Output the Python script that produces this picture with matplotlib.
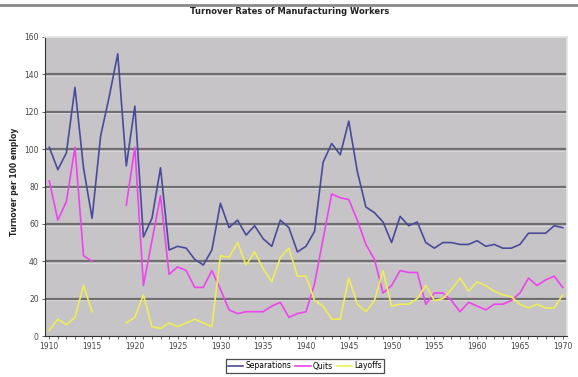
import numpy as np
import matplotlib
matplotlib.use("Agg")
from matplotlib import pyplot as plt
from matplotlib.lines import Line2D

years = list(range(1910, 1971))

separations = [101, 89, 98, 133, 90, 63, 107, 128, 151, 91,
               123, 53, 63, 90, 46, 48, 47, 41, 38, 46,
               71, 58, 62, 54, 59, 52, 48, 62, 58, 45,
               48, 56, 93, 103, 97, 115, 88, 69, 66, 61,
               50, 64, 59, 61, 50, 47, 50, 50, 49, 49,
               51, 48, 49, 47, 47, 49, 55, 55, 55, 59,
               58]

quits = [83, 62, 72, 101, 43, 40, None, None, None, 70,
         101, 27, 51, 75, 33, 37, 35, 26, 26, 35,
         25, 14, 12, 13, 13, 13, 16, 18, 10, 12,
         13, 28, 52, 76, 74, 73, 62, 49, 41, 23,
         27, 35, 34, 34, 17, 23, 23, 19, 13, 18,
         16, 14, 17, 17, 19, 23, 31, 27, 30, 32,
         26]

layoffs = [3, 9, 6, 10, 27, 13, None, None, None, 7,
           10, 22, 5, 4, 7, 5, 7, 9, 7, 5,
           43, 42, 50, 38, 45, 36, 29, 42, 47, 32,
           32, 19, 16, 9, 9, 31, 17, 13, 19, 35,
           16, 17, 17, 20, 27, 19, 20, 25, 31, 24,
           29, 27, 24, 22, 21, 17, 15, 17, 15, 15,
           22]

y_ticks = [0, 20, 40, 60, 80, 100, 120, 140, 160]
x_labels = [1910, 1915, 1920, 1925, 1930, 1935, 1940, 1945, 1950, 1955, 1960, 1965, 1970]

def to_arr(v):
    return np.array([np.nan if a is None else a for a in v], dtype=float)

fig = plt.figure(figsize=(5.78, 3.77), dpi=100)
fig.patch.set_facecolor("white")
ax = fig.add_axes([45 / 578, 1 - 336 / 377, 522 / 578, 299 / 377])
ax.set_facecolor("#c6c4c6")

# top border line of the chart frame
fig.add_artist(Line2D([0, 1], [1 - 4.5 / 377, 1 - 4.5 / 377], color="#8a8a8a", lw=2))

for v in y_ticks[1:-1]:
    ax.axhline(v, color="#6e6e6e", lw=1.6, zorder=1)
    ax.axhline(v - 0.9, color="#dcdcdc", lw=0.6, zorder=1)

ax.plot(years, to_arr(separations), color="#4a4a9c", lw=1.2, label="Separations", zorder=3)
ax.plot(years, to_arr(quits), color="#ee44ee", lw=1.2, label="Quits", zorder=3)
ax.plot(years, to_arr(layoffs), color="#eeee55", lw=1.2, label="Layoffs", zorder=3)

ax.set_xlim(1909.5, 1970.5)
ax.set_ylim(0, 160)
ax.set_yticks(y_ticks)
ax.set_xticks(x_labels)
ax.set_xticks(years, minor=True)
ax.tick_params(axis="both", labelsize=5.5, colors="#444444", length=2.5, width=0.6)
ax.tick_params(axis="x", which="minor", length=2.5, width=0.6, colors="#444444")
ax.tick_params(axis="x", pad=2)
ax.tick_params(axis="y", pad=2)

for s in ["left", "bottom"]:
    ax.spines[s].set_color("#333333")
    ax.spines[s].set_linewidth(0.8)
for s in ["top", "right"]:
    ax.spines[s].set_color("#e4e4e4")
    ax.spines[s].set_linewidth(1.2)

fig.text(290 / 578, 1 - 12 / 377, "Turnover Rates of Manufacturing Workers",
         ha="center", va="center", fontsize=6, fontweight="bold", color="#222222")
fig.text(15 / 578, 1 - 182 / 377, "Turnover per 100 employ",
         ha="center", va="center", rotation=90, fontsize=5.5, fontweight="bold", color="#222222")

leg = fig.legend(loc="center", bbox_to_anchor=(305 / 578, 1 - 366 / 377), ncol=3,
                 fontsize=5.5, frameon=True, fancybox=False, edgecolor="#222222",
                 handlelength=2.0, handletextpad=0.3, columnspacing=0.5, borderpad=0.3)
leg.get_frame().set_linewidth(0.9)

fig.savefig("out.png", dpi=100)
